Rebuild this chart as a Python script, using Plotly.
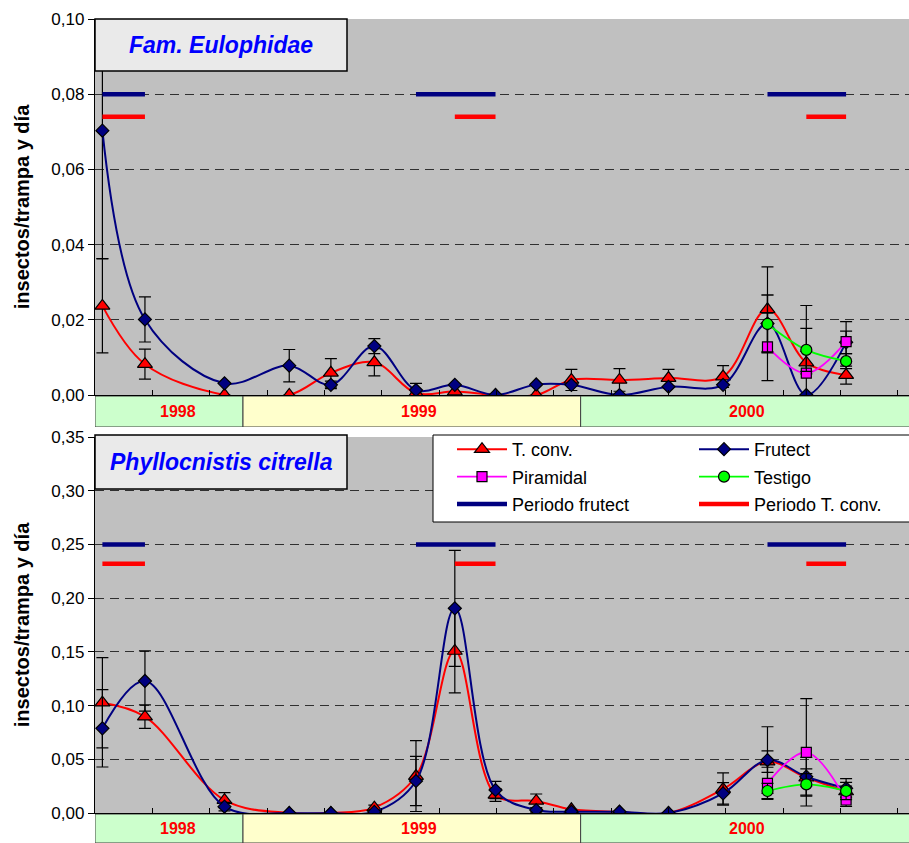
import plotly.graph_objects as go

# Sampling dates (shared by both panels)
dates = ["1998-08-02", "1998-09-17", "1998-12-12", "1999-02-20", "1999-04-06",
         "1999-05-23", "1999-07-07", "1999-08-18", "1999-10-01", "1999-11-14",
         "1999-12-22", "2000-02-12", "2000-04-05", "2000-06-03", "2000-07-21",
         "2000-09-01", "2000-10-14"]
dates_2000 = dates[-3:]

# Fam. Eulophidae (insectos/trampa y día)
eul_tconv = [0.0237, 0.0082, 0.0, 0.0, 0.0059, 0.0087, 0.0005, 0.0009, 0.0, 0.0,
             0.0040, 0.0040, 0.0045, 0.0049, 0.0228, 0.0086, 0.0053]
eul_tconv_err = [0.0125, 0.0040, 0.0, 0.0, 0.0038, 0.0036, 0.0, 0.0, 0.0, 0.0,
                 0.0028, 0.0030, 0.0023, 0.0029, 0.0113, 0.0030, 0.0024]
eul_frutect = [0.0703, 0.0201, 0.0031, 0.0078, 0.0027, 0.0130, 0.0013, 0.0027, 0.0,
               0.0028, 0.0027, 0.0, 0.0022, 0.0027, 0.0190, 0.0, 0.0140]
eul_frutect_err = [0.0340, 0.0060, 0.0, 0.0043, 0.0010, 0.0020, 0.0018, 0.0, 0.0,
                   0.0, 0.0, 0.0, 0.0, 0.0, 0.0076, 0.0, 0.0030]
eul_piramidal = [0.0128, 0.0058, 0.0142]
eul_piramidal_err = [0.0090, 0.0180, 0.0053]
eul_testigo = [0.0189, 0.0120, 0.0090]
eul_testigo_err = [0.0077, 0.0057, 0.0020]

# Phyllocnistis citrella (insectos/trampa y día)
phy_tconv = [0.1027, 0.0897, 0.0120, 0.0, 0.0, 0.0050, 0.0344, 0.1508, 0.0168, 0.0112,
             0.0034, 0.0010, 0.0, 0.0223, 0.0478, 0.0330, 0.0200]
phy_tconv_err = [0.0420, 0.0110, 0.0070, 0.0, 0.0, 0.0024, 0.0330, 0.0390, 0.0060, 0.0065,
                 0.0, 0.0, 0.0, 0.0150, 0.0100, 0.0080, 0.0050]
phy_frutect = [0.0788, 0.1229, 0.0059, 0.0, 0.0, 0.0010, 0.0298, 0.1905, 0.0214, 0.0028,
               0.0012, 0.0012, 0.0, 0.0183, 0.0493, 0.0338, 0.0230]
phy_frutect_err = [0.0360, 0.0280, 0.0040, 0.0, 0.0, 0.0020, 0.0230, 0.0540, 0.0080, 0.0020,
                   0.0, 0.0, 0.0, 0.0100, 0.0310, 0.0180, 0.0090]
phy_piramidal = [0.0276, 0.0565, 0.0121]
phy_piramidal_err = [0.0150, 0.0500, 0.0060]
phy_testigo = [0.0205, 0.0267, 0.0205]
phy_testigo_err = [0.0070, 0.0100, 0.0080]

# Trapping periods (start, end)
periodo_frutect = [("1998-08-02", "1998-09-17"), ("1999-07-07", "1999-10-01"),
                   ("2000-07-21", "2000-10-14")]
periodo_tconv = [("1998-08-02", "1998-09-17"), ("1999-08-18", "1999-10-01"),
                 ("2000-09-01", "2000-10-14")]

# Year strip under each panel
years = ["1998", "1999", "2000"]
year_start = ["1998-07-25", "1999-01-01", "2000-01-01"]
year_end = ["1999-01-01", "2000-01-01", "2001-01-01"]
year_label_at = ["1998-10-23", "1999-07-10", "2000-06-29"]
year_fill = ["#CCFFCC", "#FFFFCC", "#CCFFCC"]

x_range = ["1998-07-25", "2000-12-21"]
DAY_MS = 86400000

FONT = "Arial, Liberation Sans, sans-serif"
RED, NAVY, MAGENTA, GREEN = "#FF0000", "#000080", "#FF00FF", "#00FF00"

panels = [
    dict(title="Fam. Eulophidae", xa="x", ya="y",
         tconv=(eul_tconv, eul_tconv_err), frutect=(eul_frutect, eul_frutect_err),
         piramidal=(eul_piramidal, eul_piramidal_err), testigo=(eul_testigo, eul_testigo_err),
         levels=(0.080, 0.074), first=True),
    dict(title="Phyllocnistis citrella", xa="x3", ya="y3",
         tconv=(phy_tconv, phy_tconv_err), frutect=(phy_frutect, phy_frutect_err),
         piramidal=(phy_piramidal, phy_piramidal_err), testigo=(phy_testigo, phy_testigo_err),
         levels=(0.250, 0.232), first=False),
]

fig = go.Figure()


def err(vals):
    return dict(type="data", array=vals, visible=True, color="black", thickness=1.2, width=6)


def segments(periods, level):
    xs, ys = [], []
    for s, e in periods:
        xs += [s, e, None]
        ys += [level, level, None]
    return xs, ys


for p in panels:
    common = dict(xaxis=p["xa"], yaxis=p["ya"], mode="lines+markers",
                  line_shape="spline", showlegend=p["first"], cliponaxis=True)
    fig.add_trace(go.Scatter(
        x=dates, y=p["tconv"][0], error_y=err(p["tconv"][1]), name="T. conv.",
        legend="legend", legendgroup="tconv",
        line=dict(color=RED, width=2, smoothing=1),
        marker=dict(symbol="triangle-up", size=13, color=RED, line=dict(color="black", width=1.2)),
        **common))
    fig.add_trace(go.Scatter(
        x=dates, y=p["frutect"][0], error_y=err(p["frutect"][1]), name="Frutect",
        legend="legend2", legendgroup="frutect",
        line=dict(color=NAVY, width=2, smoothing=1),
        marker=dict(symbol="diamond", size=10, color=NAVY, line=dict(color="black", width=1.2)),
        **common))
    fig.add_trace(go.Scatter(
        x=dates_2000, y=p["piramidal"][0], error_y=err(p["piramidal"][1]), name="Piramidal",
        legend="legend", legendgroup="piramidal",
        line=dict(color=MAGENTA, width=1.8, smoothing=1),
        marker=dict(symbol="square", size=10, color=MAGENTA, line=dict(color="black", width=1.2)),
        **common))
    fig.add_trace(go.Scatter(
        x=dates_2000, y=p["testigo"][0], error_y=err(p["testigo"][1]), name="Testigo",
        legend="legend2", legendgroup="testigo",
        line=dict(color=GREEN, width=1.8, smoothing=1),
        marker=dict(symbol="circle", size=11, color=GREEN, line=dict(color="black", width=1.2)),
        **common))
    fx, fy = segments(periodo_frutect, p["levels"][0])
    fig.add_trace(go.Scatter(
        x=fx, y=fy, mode="lines", name="Periodo frutect", legend="legend",
        legendgroup="pfrutect", showlegend=p["first"], xaxis=p["xa"], yaxis=p["ya"],
        line=dict(color=NAVY, width=4.5)))
    tx, ty = segments(periodo_tconv, p["levels"][1])
    fig.add_trace(go.Scatter(
        x=tx, y=ty, mode="lines", name="Periodo T. conv.", legend="legend2",
        legendgroup="ptconv", showlegend=p["first"], xaxis=p["xa"], yaxis=p["ya"],
        line=dict(color=RED, width=4.5)))

H = 843.0


def ydom(top_px, bottom_px):
    return [1 - bottom_px / H, 1 - top_px / H]


xcommon = dict(type="date", range=x_range, showline=True, linecolor="black", linewidth=1.3,
               ticks="inside", ticklen=5, tickcolor="black", tick0="1998-09-25",
               dtick=62 * DAY_MS, showticklabels=False, showgrid=False, zeroline=False)
xhidden = dict(type="date", range=x_range, visible=False, matches="x")
ycommon = dict(tickformat=".2f", showgrid=True, gridcolor="#303030", gridwidth=1.4,
               griddash="9px,6px", showline=True, linecolor="black", linewidth=1.3,
               ticks="outside", ticklen=6, tickcolor="black", zeroline=False,
               tickfont=dict(family=FONT, size=17, color="black"),
               title=dict(text="insectos/trampa y día", standoff=16,
                          font=dict(family=FONT, size=20, color="black", weight="bold")))

fig.update_layout(
    width=909, height=843,
    margin=dict(l=95, r=0, t=0, b=0, autoexpand=False),
    paper_bgcolor="white", plot_bgcolor="#C0C0C0",
    separators=",.",
    font=dict(family=FONT, color="black"),
    xaxis=dict(anchor="y", **xcommon),
    yaxis=dict(anchor="x", domain=ydom(19, 395), range=[0, 0.10], dtick=0.02, **ycommon),
    xaxis2=dict(anchor="y2", **xhidden),
    yaxis2=dict(anchor="x2", domain=ydom(396, 427), range=[0, 1], visible=False),
    xaxis3=dict(anchor="y3", matches="x", **xcommon),
    yaxis3=dict(anchor="x3", domain=ydom(437, 813), range=[0, 0.35], dtick=0.05, **ycommon),
    xaxis4=dict(anchor="y4", **xhidden),
    yaxis4=dict(anchor="x4", domain=ydom(814, 843), range=[0, 1], visible=False),
    legend=dict(x=(452 - 95) / 814, y=1 - 431 / H, xanchor="left", yanchor="top",
                bgcolor="rgba(0,0,0,0)", borderwidth=0, itemwidth=50, tracegroupgap=1,
                font=dict(family=FONT, size=18, color="black")),
    legend2=dict(x=(694 - 95) / 814, y=1 - 431 / H, xanchor="left", yanchor="top",
                 bgcolor="rgba(0,0,0,0)", borderwidth=0, itemwidth=50, tracegroupgap=1,
                 font=dict(family=FONT, size=18, color="black")),
)

shapes = []
annotations = []

# Year strips
for xa, ya in (("x2", "y2"), ("x4", "y4")):
    for yr, s, e, lab, fc in zip(years, year_start, year_end, year_label_at, year_fill):
        shapes.append(dict(type="rect", xref=xa, yref=ya, x0=s, x1=e, y0=0, y1=1,
                           fillcolor=fc, line=dict(color="#404040", width=1), layer="below"))
        annotations.append(dict(xref=xa, yref=ya, x=lab, y=0.5, text=yr, showarrow=False,
                                xanchor="center", yanchor="middle",
                                font=dict(family=FONT, size=16, color=RED, weight="bold")))


def px_x(v):
    return (v - 95) / 814


def px_y(v):
    return 1 - v / H


# Panel title boxes
for p, (top, bottom) in zip(panels, ((19, 71), (435, 489))):
    shapes.append(dict(type="rect", xref="paper", yref="paper",
                       x0=px_x(95), x1=px_x(347), y0=px_y(bottom), y1=px_y(top),
                       fillcolor="#EAEAEA", line=dict(color="black", width=1.5), layer="above"))
    annotations.append(dict(xref="paper", yref="paper", x=px_x(221), y=px_y((top + bottom) / 2),
                            xanchor="center", yanchor="middle",
                            text=p["title"], showarrow=False,
                            font=dict(family=FONT, size=23, color="#0000FF",
                                      weight="bold", style="italic")))

# Legend frame
shapes.append(dict(type="rect", xref="paper", yref="paper",
                   x0=px_x(433), x1=1.01, y0=px_y(522), y1=px_y(435),
                   fillcolor="white", line=dict(color="black", width=1), layer="above"))

fig.update_layout(shapes=shapes, annotations=annotations)

fig.write_html("out.html")
